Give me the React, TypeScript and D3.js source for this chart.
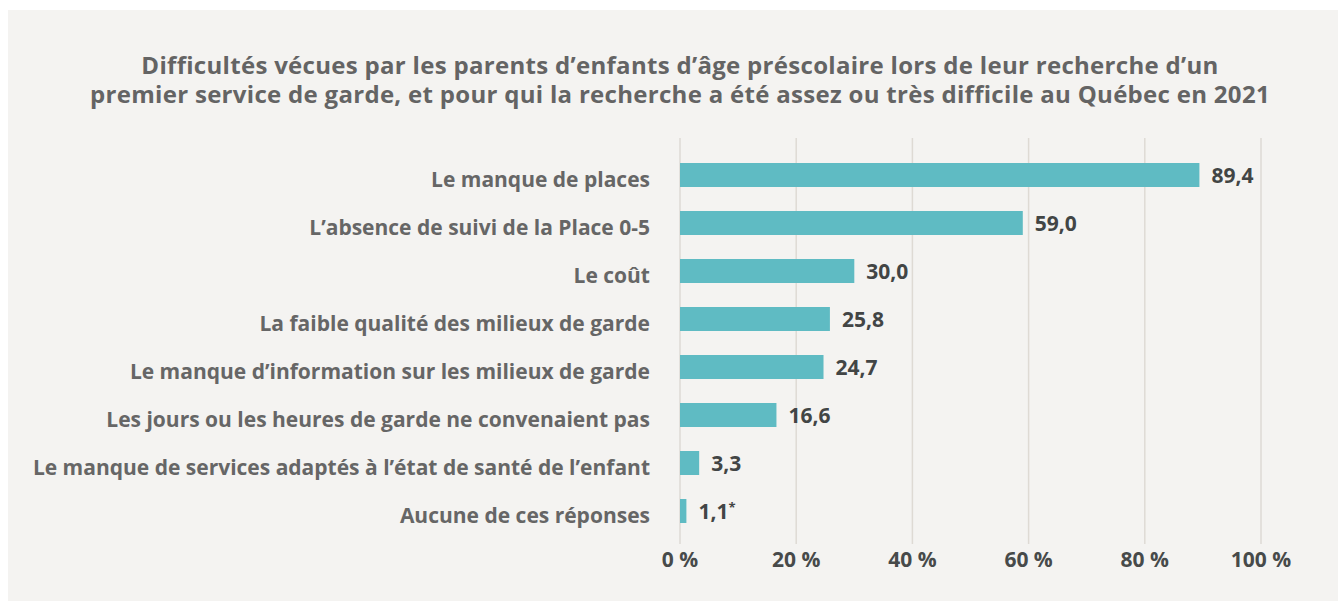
import React from "react";
import * as d3 from "d3";

const titleLines = [
  "Difficultés vécues par les parents d’enfants d’âge préscolaire lors de leur recherche d’un",
  "premier service de garde, et pour qui la recherche a été assez ou très difficile au Québec en 2021",
];

const categories = [
  "Le manque de places",
  "L’absence de suivi de la Place 0-5",
  "Le coût",
  "La faible qualité des milieux de garde",
  "Le manque d’information sur les milieux de garde",
  "Les jours ou les heures de garde ne convenaient pas",
  "Le manque de services adaptés à l’état de santé de l’enfant",
  "Aucune de ces réponses",
];

const values = [89.4, 59.0, 30.0, 25.8, 24.7, 16.6, 3.3, 1.1];
const notes = ["", "", "", "", "", "", "", "*"];

const ticks = [0, 20, 40, 60, 80, 100];

const W = 1338;
const H = 601;
const FONT = "'Open Sans', Lato, sans-serif";

export default function App() {
  const x = d3.scaleLinear().domain([0, 100]).range([680, 1261]);
  const y = d3
    .scaleBand<string>()
    .domain(categories)
    .range([151, 535])
    .paddingInner(0.5)
    .paddingOuter(0.25);
  const fmt = (v: number) => d3.format(".1f")(v).replace(".", ",");

  return (
    <svg
      width={W}
      height={H}
      style={{ position: "absolute", left: 0, top: 0, display: "block" }}
    >
      <rect x={0} y={0} width={W} height={H} fill="#ffffff" />
      <rect x={8} y={10} width={W - 8} height={H - 10} fill="#f4f3f1" />

      <text
        x={680}
        y={74}
        textAnchor="middle"
        fontFamily={FONT}
        fontWeight={700}
        fontSize={24}
        letterSpacing={0.3}
        fill="#646464"
      >
        {titleLines.map((t, i) => (
          <tspan key={i} x={680} dy={i === 0 ? 0 : 29}>
            {t}
          </tspan>
        ))}
      </text>

      {ticks.map((t) => (
        <g key={t}>
          <line
            x1={x(t)}
            x2={x(t)}
            y1={138}
            y2={544}
            stroke="#dedad4"
            strokeWidth={1.5}
          />
          <text
            x={x(t)}
            y={567}
            textAnchor="middle"
            fontFamily={FONT}
            fontWeight={700}
            fontSize={21}
            fill="#474a4a"
          >
            {`${t} %`}
          </text>
        </g>
      ))}

      {categories.map((c, i) => {
        const yc = (y(c) as number) + y.bandwidth() / 2;
        return (
          <g key={c}>
            <rect
              x={x(0)}
              y={y(c) as number}
              width={x(values[i]) - x(0)}
              height={y.bandwidth()}
              fill="#5fbbc3"
            />
            <text
              x={650}
              y={yc + 11.5}
              textAnchor="end"
              fontFamily={FONT}
              fontWeight={700}
              fontSize={21}
              fill="#666666"
            >
              {c}
            </text>
            <text
              x={x(values[i]) + 12}
              y={yc + 8}
              fontFamily={FONT}
              fontWeight={700}
              fontSize={21}
              fill="#424545"
            >
              {fmt(values[i])}
              {notes[i] ? (
                <tspan fontSize={13} dy={-7}>
                  {notes[i]}
                </tspan>
              ) : null}
            </text>
          </g>
        );
      })}
    </svg>
  );
}
